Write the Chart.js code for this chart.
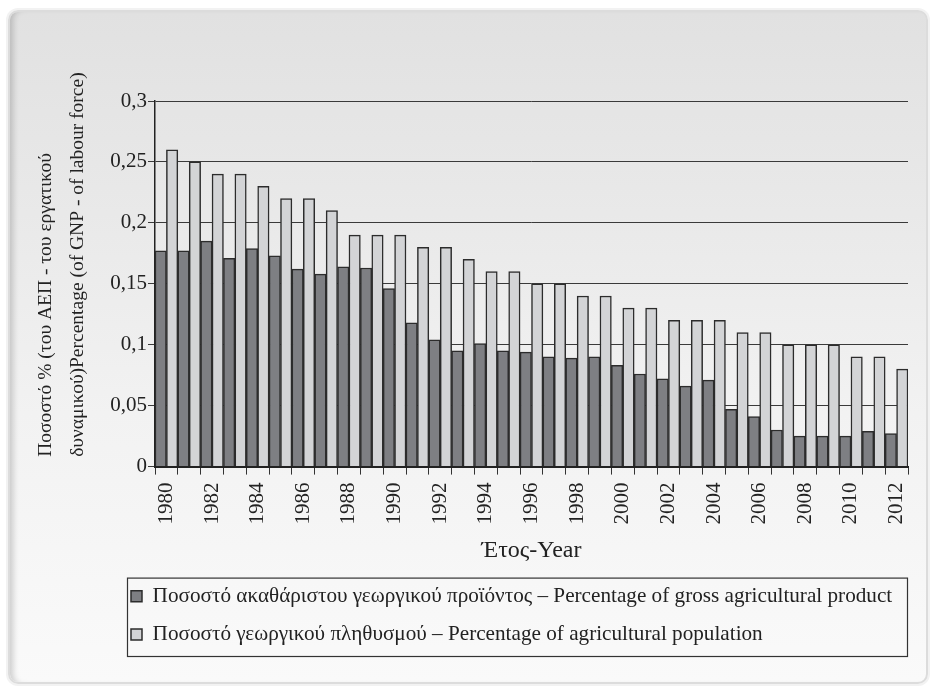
<!DOCTYPE html>
<html>
<head>
<meta charset="utf-8">
<script src="https://cdn.jsdelivr.net/npm/chart.js@4"></script>
<style>
  html, body { margin: 0; padding: 0; background: #fff; }
  #frame {
    position: absolute; left: 8px; top: 10px; width: 916px; height: 670px;
    border: 2px solid #dcdcdc; border-radius: 10px;
    box-shadow: inset 7px 0 6px -4px rgba(0,0,0,0.18), 0 0 0 2px #f2f2f2;
    background: linear-gradient(#e1e1e1 0%, #e9e9e9 30%, #f2f2f2 60%, #fafafa 100%);
  }
  #grafico { position: absolute; left: 0; top: 0; }
</style>
</head>
<body>
<div id="frame"></div>
<canvas id="grafico" width="935" height="691"></canvas>
<script>
// Años (categorías)
const anios = ['1980', '1981', '1982', '1983', '1984', '1985', '1986', '1987', '1988', '1989',
  '1990', '1991', '1992', '1993', '1994', '1995', '1996', '1997', '1998', '1999',
  '2000', '2001', '2002', '2003', '2004', '2005', '2006', '2007', '2008', '2009',
  '2010', '2011', '2012'];

// Porcentaje del producto agrícola bruto
const productoAgricola = [0.177, 0.177, 0.185, 0.171, 0.179, 0.173, 0.162, 0.158, 0.164, 0.163,
  0.146, 0.118, 0.104, 0.095, 0.101, 0.095, 0.094, 0.090, 0.089, 0.090,
  0.083, 0.076, 0.072, 0.066, 0.071, 0.047, 0.041, 0.030, 0.025, 0.025,
  0.025, 0.029, 0.027];

// Porcentaje de población agrícola
const poblacionAgricola = [0.26, 0.25, 0.24, 0.24, 0.23, 0.22, 0.22, 0.21, 0.19, 0.19,
  0.19, 0.18, 0.18, 0.17, 0.16, 0.16, 0.15, 0.15, 0.14, 0.14,
  0.13, 0.13, 0.12, 0.12, 0.12, 0.11, 0.11, 0.10, 0.10, 0.10,
  0.09, 0.09, 0.08];

const etiquetas = [
  'Ποσοστό ακαθάριστου γεωργικού προϊόντος – Percentage of gross agricultural product',
  'Ποσοστό γεωργικού πληθυσμού – Percentage of agricultural population'
];

const fuente = '"Liberation Serif", "DejaVu Serif", serif';

// Mover la leyenda y dibujarle un marco
const marcoLeyenda = {
  id: 'marcoLeyenda',
  afterLayout(chart) {
    const lg = chart.legend;
    lg.left = 114;
    lg.right = 907;
  },
  afterDraw(chart) {
    const lg = chart.legend;
    const ctx = chart.ctx;
    ctx.save();
    ctx.strokeStyle = '#333';
    ctx.lineWidth = 1.2;
    ctx.strokeRect(127.5, lg.top + 9.5, 907 - 127, lg.bottom - lg.top - 8);
    ctx.restore();
  }
};

const ctx = document.getElementById('grafico').getContext('2d');
new Chart(ctx, {
  type: 'bar',
  data: {
    labels: anios,
    datasets: [{
      label: etiquetas[0],
      data: productoAgricola,
      backgroundColor: '#7e7f83',
      borderColor: '#2c2c2c',
      borderWidth: 1.5,
      categoryPercentage: 1,
      barPercentage: 1
    }, {
      label: etiquetas[1],
      data: poblacionAgricola,
      backgroundColor: '#d3d4d6',
      borderColor: '#2c2c2c',
      borderWidth: 1.5,
      categoryPercentage: 1,
      barPercentage: 1
    }]
  },
  options: {
    responsive: false,
    animation: false,
    devicePixelRatio: 1,
    layout: {
      padding: { left: 4, right: 27, top: 101, bottom: 36 }
    },
    plugins: {
      tooltip: { enabled: false },
      legend: {
        position: 'bottom',
        align: 'start',
        labels: {
          color: '#222',
          boxWidth: 11,
          boxHeight: 11,
          padding: 17,
          font: { family: fuente, size: 21.2 }
        }
      }
    },
    scales: {
      x: {
        afterFit(scale) { scale.height = 102; },
        grid: { drawOnChartArea: false, tickLength: 8, color: '#333' },
        border: { color: '#222', width: 2 },
        ticks: {
          autoSkip: false,
          minRotation: 90,
          maxRotation: 90,
          padding: 8,
          color: '#222',
          font: { family: fuente, size: 21 },
          callback: function(val, i) { return i % 2 === 0 ? this.getLabelForValue(val) : ''; }
        },
        title: {
          display: true,
          text: 'Έτος-Year',
          color: '#222',
          font: { family: fuente, size: 24 },
          padding: { top: 4, bottom: 3 }
        }
      },
      y: {
        min: 0,
        max: 0.3,
        afterFit(scale) { scale.width = 151; },
        grid: { color: '#3a3a3a', lineWidth: 1, tickLength: 7 },
        border: { color: '#222', width: 1.5 },
        ticks: {
          stepSize: 0.05,
          padding: 1,
          color: '#222',
          font: { family: fuente, size: 21 },
          callback: (v) => String(Number(v.toFixed(2))).replace('.', ',')
        },
        title: {
          display: true,
          align: 'start',
          text: ['  Ποσοστό % (του ΑΕΠ - του εργατικού', '  δυναμικού)Percentage (of GNP - of labour force)'],
          color: '#222',
          font: { family: fuente, size: 19.5, lineHeight: 1.65 },
          padding: { top: 26, bottom: 0 }
        }
      }
    }
  },
  plugins: [marcoLeyenda]
});
</script>
</body>
</html>
